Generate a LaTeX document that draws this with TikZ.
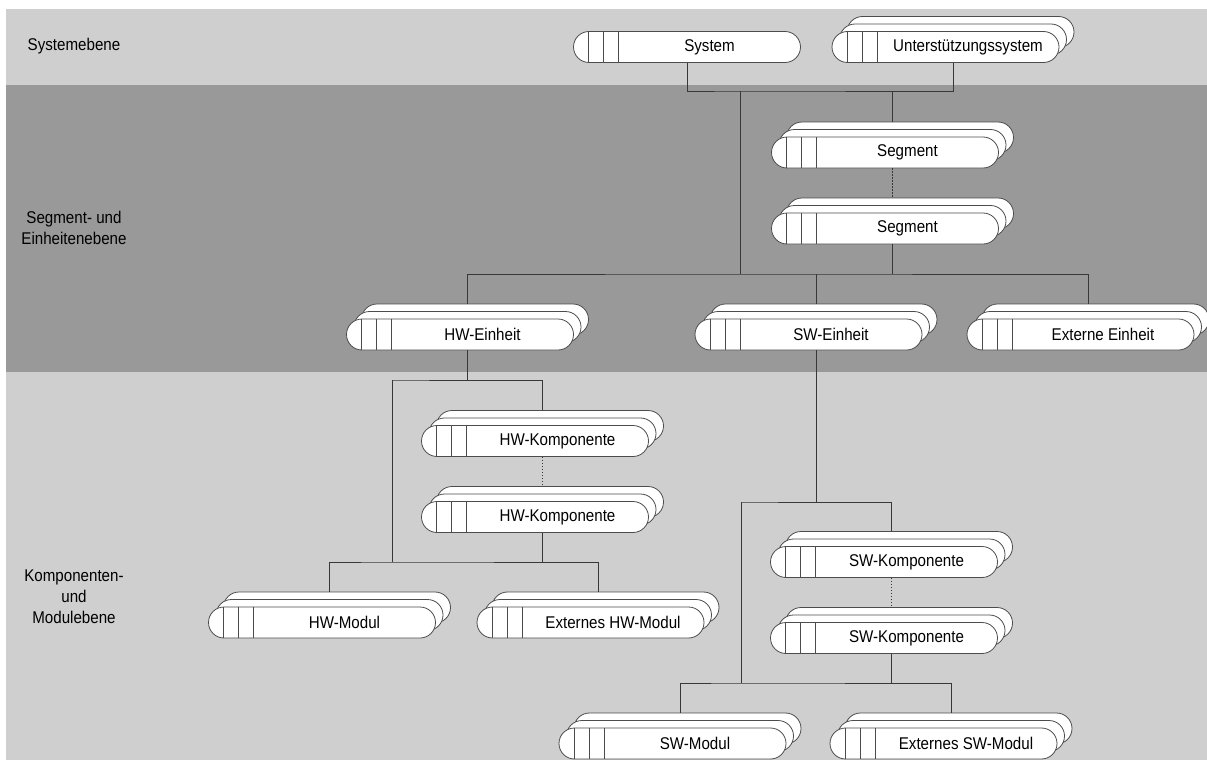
\documentclass[tikz,border=0pt]{standalone}
\usepackage{fontspec}
\setmainfont{Liberation Sans}[FakeStretch=0.89]
\usepackage{tikz}
\usetikzlibrary{shadows}
\definecolor{bandlight}{gray}{0.81}
\definecolor{banddark}{gray}{0.60}
\definecolor{pillline}{gray}{0.30}
\definecolor{connline}{gray}{0.22}
\newcommand{\pilltxt}[1]{\hspace*{45pt}\makebox[182pt]{#1}}
\tikzset{
  pill/.style  ={draw=pillline, line width=0.8pt, fill=white, rounded corners=15.5pt,
                 minimum width=227pt, minimum height=31pt, inner sep=0pt,
                 font=\fontsize{17}{20}\selectfont,
                 path picture={\foreach \k in {15,30,45}
                   \draw[pillline, line width=0.8pt]
                     ([xshift=\k pt]path picture bounding box.north west) --
                     ([xshift=\k pt]path picture bounding box.south west);}},
  stack/.style ={pill,
                 copy shadow={shadow xshift=15pt, shadow yshift=15pt,
                              fill=white, draw=pillline, line width=0.8pt},
                 copy shadow={shadow xshift=7.5pt, shadow yshift=7.5pt,
                              fill=white, draw=pillline, line width=0.8pt}},
  conn/.style  ={draw=connline, line width=0.9pt},
  dots/.style  ={conn, dash pattern=on 1.5pt off 1.5pt},
  lvl/.style   ={align=center, font=\fontsize{17}{21}\selectfont, inner sep=0pt},
}
\begin{document}
\begin{tikzpicture}[x=1pt, y=-1pt]
  \useasboundingbox (0,0) rectangle (1207,760);
  % level bands
  \fill[bandlight] (6,9)   rectangle (1207,85);
  \fill[banddark]  (6,85)  rectangle (1207,372);
  \fill[bandlight] (6,372) rectangle (1207,760);

  \node[lvl] (l1) at (74,46)  {Systemebene};
  \node[lvl] (l2) at (74,228) {Segment- und\\Einheitenebene};
  \node[lvl] (l3) at (74,597) {Komponenten-\\und\\Modulebene};

  % elements
  \node[pill]  (sys)  at (687,47)     {\pilltxt{System}};
  \node[stack] (unt)  at (945.5,47)   {\pilltxt{Unterstützungssystem}};
  \node[stack] (seg1) at (885,152.5)  {\pilltxt{Segment}};
  \node[stack] (seg2) at (885,228.5)  {\pilltxt{Segment}};
  \node[stack] (hwe)  at (460,334.5)  {\pilltxt{HW-Einheit}};
  \node[stack] (swe)  at (808.5,334.5){\pilltxt{SW-Einheit}};
  \node[stack] (exe)  at (1080.5,334.5){\pilltxt{Externe Einheit}};
  \node[stack] (hwk1) at (535,441)    {\pilltxt{HW-Komponente}};
  \node[stack] (hwk2) at (535,517)    {\pilltxt{HW-Komponente}};
  \node[stack] (hwm)  at (322,622.5)  {\pilltxt{HW-Modul}};
  \node[stack] (exhm) at (590.5,622.5){\pilltxt{Externes HW-Modul}};
  \node[stack] (swk1) at (884,562)    {\pilltxt{SW-Komponente}};
  \node[stack] (swk2) at (884,638)    {\pilltxt{SW-Komponente}};
  \node[stack] (swm)  at (672.5,743.5){\pilltxt{SW-Modul}};
  \node[stack] (exsm) at (943.5,743.5){\pilltxt{Externes SW-Modul}};

  \foreach \n in {unt,seg1,seg2,hwe,swe,exe,hwk1,hwk2,hwm,exhm,swk1,swk2,swm,exsm} {
    \coordinate (\n-t) at ([xshift=7.5pt,yshift=15pt]\n.north);
    \coordinate (\n-b) at ([xshift=7.5pt]\n.south);
  }
  \coordinate (j1) at (740,91);
  \coordinate (j2) at (740,274);
  \coordinate (j3) at (392,380);
  \coordinate (j4) at (392,562);
  \coordinate (j5) at (741,502);
  \coordinate (j6) at (741,683);

  % connectors
  \draw[conn] (sys.south) |- (j1) -| (unt-b);
  \draw[conn] (j1) -- (j2);
  \draw[conn] (seg1-t) -- (seg1-t |- j1);
  \draw[dots] (seg1-b) -- (seg2-t);
  \draw[conn] (seg2-b) -- (seg2-b |- j2);
  \draw[conn] (hwe-t) |- (j2) -| (exe-t);
  \draw[conn] (swe-t) -- (swe-t |- j2);

  \draw[conn] (hwe-b) |- (j3) -| (hwk1-t);
  \draw[dots] (hwk1-b) -- (hwk2-t);
  \draw[conn] (j3) -- (j4);
  \draw[conn] (hwk2-b) -- (hwk2-b |- j4);
  \draw[conn] (hwm-t) |- (j4) -| (exhm-t);

  \draw[conn] (swe-b) |- (j5) -| (swk1-t);
  \draw[dots] (swk1-b) -- (swk2-t);
  \draw[conn] (j5) -- (j6);
  \draw[conn] (swk2-b) -- (swk2-b |- j6);
  \draw[conn] (swm-t) |- (j6) -| (exsm-t);
\end{tikzpicture}
\end{document}
